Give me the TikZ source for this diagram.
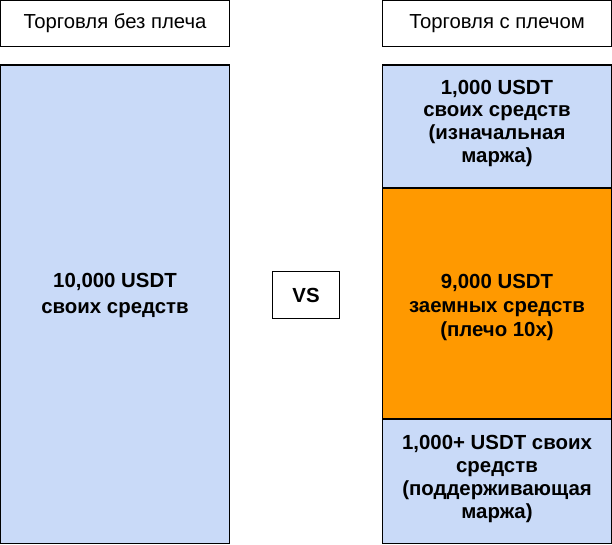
\documentclass[tikz,border=0pt]{standalone}
\usepackage{fontspec}
\setmainfont{Liberation Sans}
\definecolor{paleblue}{HTML}{C9DAF8}
\definecolor{goldorange}{HTML}{FF9900}
\begin{document}
\begin{tikzpicture}[x=1pt,y=-1pt,
  frame/.style={draw=black, line width=1.2pt},
  titletext/.style={font=\fontsize{20.3}{23}\selectfont},
  boldtext/.style={font=\fontsize{20.4}{23}\selectfont\bfseries, align=center, inner sep=0pt}]
\useasboundingbox (0,0) rectangle (612,544);
% title boxes
\draw[frame, fill=white] (0.6,0.6) rectangle (229.4,46.4);
\node[titletext] (t1) at (115,23.5) {Торговля без плеча};
\draw[frame, fill=white] (382.6,0.6) rectangle (611.4,46.4);
\node[titletext] (t2) at (497,23.5) {Торговля с плечом};
% left box
\draw[frame, fill=paleblue] (0.6,65) rectangle (229.4,543.4);
\node[boldtext, font=\fontsize{20.4}{25.6}\selectfont\bfseries] (own) at (115,295.4) {10,000 USDT\\своих средств};
% vs
\draw[frame, fill=white] (272.6,271.6) rectangle (339.4,318.4);
\node[boldtext] (vs) at (306,295) {VS};
% right stack
\draw[frame, fill=paleblue] (382.6,65) rectangle (611.4,188);
\draw[frame, fill=goldorange] (382.6,188) rectangle (611.4,419);
\draw[frame, fill=paleblue] (382.6,419) rectangle (611.4,543.4);
\node[boldtext, font=\fontsize{20.4}{22.7}\selectfont\bfseries] (initm) at (497,123.3) {1,000 USDT\\своих средств\\(изначальная\\маржа)};
\node[boldtext, font=\fontsize{20.4}{24.2}\selectfont\bfseries] (borrow) at (497,307.5) {9,000 USDT\\заемных средств\\(плечо 10x)};
\node[boldtext, font=\fontsize{20.4}{22.8}\selectfont\bfseries] (maint) at (497,479.1) {1,000+ USDT своих\\средств\\(поддерживающая\\маржа)};
\end{tikzpicture}
\end{document}
